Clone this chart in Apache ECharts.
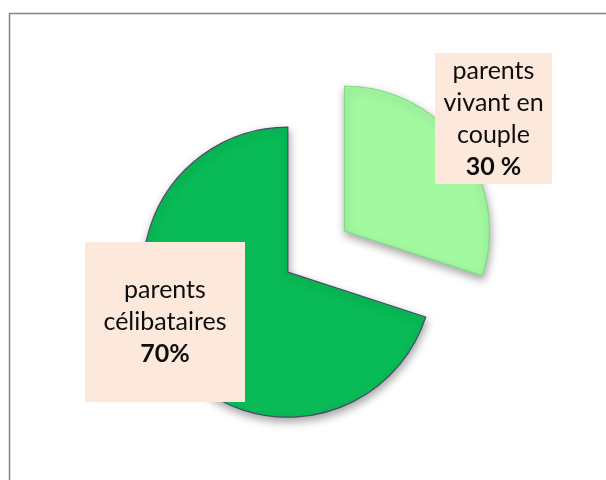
<!DOCTYPE html>
<html>
<head>
<meta charset="utf-8">
<script src="https://cdn.jsdelivr.net/npm/echarts@6/dist/echarts.min.js"></script>
<style>
  html, body { margin: 0; padding: 0; background: #ffffff; }
  #chart { width: 606px; height: 480px; }
</style>
</head>
<body>
<div id="chart"></div>
<script>
// Family structure: share of parents by living situation
const categories = ['parents vivant en couple', 'parents célibataires'];
const shares = [30, 70];
const shareLabels = ['30 %', '70%'];
const labelLines = [['parents', 'vivant en', 'couple'], ['parents', 'célibataires']];

const sliceColors = ['#A2F9A0', '#08BB56'];
const sliceBorders = ['#86d986', '#4b4a6a'];

const W = 606, H = 480;
const pieCenter = [W * 0.475, H * 0.567];
const pieRadius = 145;
const pullOut = 70;      // distance the first slice is pulled away from the centre

// label boxes: width, height and centre
const labelBox = [
  { w: 117, h: 131, x: 493.5, y: 118.5 },
  { w: 160, h: 160, x: 165, y: 322 }
];
const lineH = 32;

// direction of the first slice's bisector (slices start at 12 o'clock, clockwise)
const total = shares.reduce((a, b) => a + b, 0);
const midAngle = Math.PI / 2 - (shares[0] / total) * Math.PI;   // radians, math orientation
const pulledCenter = [
  pieCenter[0] + pullOut * Math.cos(midAngle),
  pieCenter[1] - pullOut * Math.sin(midAngle)
];

const chart = echarts.init(document.getElementById('chart'), null, { renderer: 'canvas' });

function labelFor(i) {
  const box = labelBox[i];
  const n = labelLines[i].length + 1;
  const padV = Math.max(0, (box.h - n * lineH) / 2);
  const padH = 8;
  return {
    show: true,
    position: 'outside',
    backgroundColor: '#FDE9DB',
    align: 'center',
    verticalAlign: 'middle',
    width: box.w - 2 * padH,
    padding: [padV, padH, padV, padH],
    lineHeight: lineH,
    fontFamily: 'Lato',
    fontSize: 25,
    color: '#0d0d0d',
    formatter: () => labelLines[i].join('\n') + '\n{b|' + shareLabels[i] + '}',
    rich: {
      b: { fontWeight: 'bold', fontFamily: 'Lato', fontSize: 25, lineHeight: lineH, color: '#0d0d0d' }
    }
  };
}

// one pie series per slice: the slice it draws is filled, the other one is left empty
function sliceSeries(k, center) {
  return {
    type: 'pie',
    center: center,
    radius: pieRadius,
    startAngle: 90,
    clockwise: true,
    silent: true,
    avoidLabelOverlap: false,
    emphasis: { disabled: true },
    labelLine: { show: false },
    labelLayout: (params) => {
      const box = labelBox[k];
      return { x: box.x, y: box.y, align: 'center', verticalAlign: 'middle', hideOverlap: false };
    },
    z: k === 0 ? 3 : 2,
    data: categories.map((name, i) => i === k ? {
      name: name,
      value: shares[i],
      itemStyle: {
        color: sliceColors[i],
        borderColor: sliceBorders[i],
        borderWidth: 1.2,
        shadowColor: 'rgba(0,0,0,0.35)',
        shadowBlur: 8,
        shadowOffsetX: 1,
        shadowOffsetY: 4
      },
      label: labelFor(i)
    } : {
      name: name,
      value: shares[i],
      itemStyle: { color: 'rgba(0,0,0,0)', borderWidth: 0 },
      label: { show: false }
    })
  };
}

chart.setOption({
  animation: false,
  backgroundColor: '#ffffff',
  graphic: [{
    type: 'rect',
    shape: { x: 9.5, y: 13.5, width: 700, height: 600 },
    style: { fill: null, stroke: '#858585', lineWidth: 1.5 },
    silent: true,
    z: 0
  }],
  series: [
    sliceSeries(1, pieCenter),
    sliceSeries(0, pulledCenter)
  ]
});
</script>
</body>
</html>
